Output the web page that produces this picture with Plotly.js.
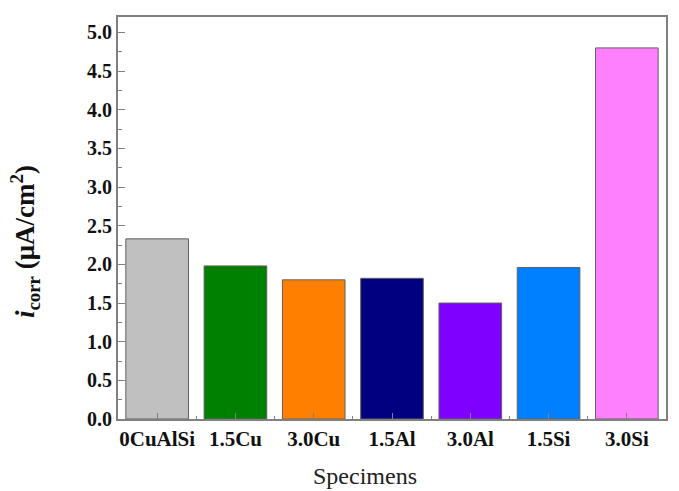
<!DOCTYPE html>
<html><head><meta charset="utf-8">
<script src="https://cdn.plot.ly/plotly-3.0.1.min.js"></script>
<style>body{margin:0;background:#fff}#chart{width:679px;height:491px}</style>
</head><body><div id="chart"></div>
<script>
const categories = ["0CuAlSi","1.5Cu","3.0Cu","1.5Al","3.0Al","1.5Si","3.0Si"];
const values = [2.33, 1.98, 1.80, 1.82, 1.50, 1.96, 4.80];
const colors = ["#c0c0c0","#008000","#ff8000","#000080","#8000ff","#0080ff","#ff80ff"];
const yTicks = [0,0.5,1,1.5,2,2.5,3,3.5,4,4.5,5];
const yTickText = yTicks.map(v=>v.toFixed(1));
const boundaries = categories.slice(1).map((c,i)=>i+0.5);

const trace = {
  type:"bar", x:categories, y:values,
  marker:{color:colors, line:{color:"#606060", width:1}},
  width:0.8
};
const fam = "Liberation Serif, Times New Roman, serif";
const layout = {
  width:679, height:491,
  margin:{l:118, r:13, t:17, b:72},
  paper_bgcolor:"#fff", plot_bgcolor:"#fff",
  showlegend:false,
  font:{family:fam, color:"#000"},
  xaxis:{
    showline:true, linecolor:"#808080", linewidth:2, mirror:true,
    ticks:"inside", ticklen:6, tickcolor:"#808080",
    tickfont:{family:fam, size:21, color:"#111", weight:"bold"},
    range:[-0.5, 6.5]
  },
  xaxis2:{
    overlaying:"x", range:[-0.5,6.5], tickvals:boundaries, showticklabels:false,
    ticks:"inside", ticklen:3, tickcolor:"#808080", showgrid:false, zeroline:false,
    showline:false, anchor:"y"
  },
  yaxis:{
    range:[0,5.2], showline:true, linecolor:"#808080", linewidth:2, mirror:true,
    ticks:"inside", ticklen:7, tickcolor:"#808080",
    tickvals:yTicks, ticktext:yTickText, showgrid:false, zeroline:false,
    minor:{ticks:"inside", ticklen:4, tickcolor:"#808080", dtick:0.25, showgrid:false},
    tickfont:{family:fam, size:20, color:"#111", weight:"bold"}
  },
  annotations:[{
    text:"Specimens", xref:"paper", yref:"paper", x:0.45, y:0, yshift:-57,
    xanchor:"center", yanchor:"middle", showarrow:false,
    font:{family:fam, size:24, color:"#222"}
  },{
    text:"<b><i>i</i></b><sub><b>corr</b></sub><b> (μA/cm<sup>2</sup>)</b>",
    xref:"paper", yref:"paper", x:0, y:0.44, xshift:-93, textangle:-90,
    xanchor:"center", yanchor:"middle", showarrow:false,
    font:{family:fam, size:27, color:"#111"}
  }]
};
const dummy = {type:"scatter", x:[0], y:[0], xaxis:"x2", mode:"markers", marker:{opacity:0}, hoverinfo:"skip", showlegend:false};
Plotly.newPlot("chart",[trace, dummy],layout,{displayModeBar:false, staticPlot:true});
</script></body></html>
